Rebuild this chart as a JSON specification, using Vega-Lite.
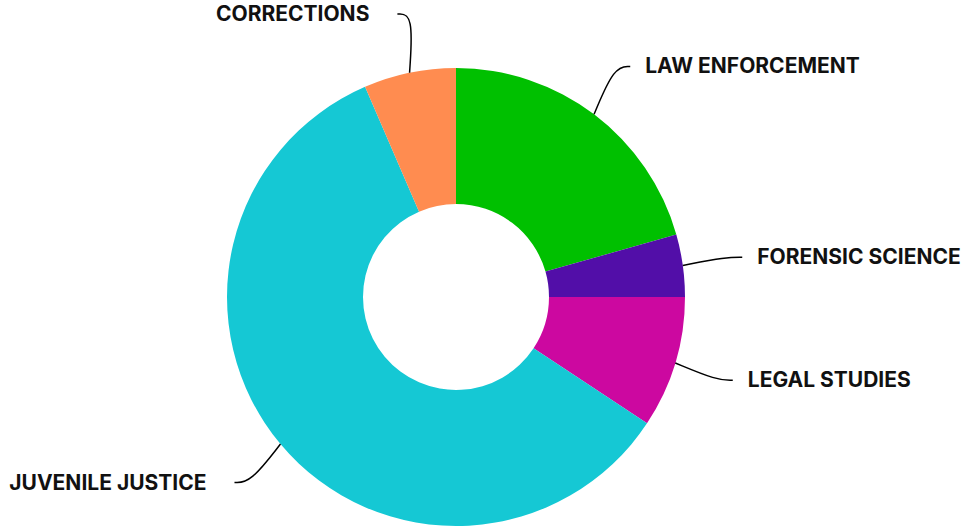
{
  "$schema": "https://vega.github.io/schema/vega-lite/v6.json",
  "width": 912,
  "height": 458,
  "autosize": "none",
  "padding": {"left": 0, "top": 68, "right": 52, "bottom": 3},
  "background": "white",
  "config": {"view": {"stroke": null}},
  "data": {
    "values": [
      {"category": "LAW ENFORCEMENT", "value": 20.6},
      {"category": "FORENSIC SCIENCE", "value": 4.4},
      {"category": "LEGAL STUDIES", "value": 9.3},
      {"category": "JUVENILE JUSTICE", "value": 59.2},
      {"category": "CORRECTIONS", "value": 6.5}
    ]
  },
  "transform": [
    {"window": [{"op": "row_number", "as": "rn"}]},
    {"window": [{"op": "sum", "field": "value", "as": "cum"}], "sort": [{"field": "rn"}], "frame": [null, 0]},
    {"joinaggregate": [{"op": "sum", "field": "value", "as": "total"}]},
    {"calculate": "(datum.cum - datum.value / 2) / datum.total * 2 * PI", "as": "a"},
    {"calculate": "sin(datum.a) > 0 ? 1 : -1", "as": "side"}
  ],
  "layer": [
    {
      "mark": {"type": "arc", "outerRadius": 229, "innerRadius": 93},
      "encoding": {
        "theta": {"field": "value", "type": "quantitative", "stack": true},
        "order": {"field": "rn", "type": "quantitative"},
        "color": {
          "field": "category",
          "type": "nominal",
          "legend": null,
          "scale": {
            "domain": ["LAW ENFORCEMENT", "FORENSIC SCIENCE", "LEGAL STUDIES", "JUVENILE JUSTICE", "CORRECTIONS"],
            "range": ["#00C000", "#520EA8", "#CC08A0", "#15C8D4", "#FF8C50"]
          }
        }
      }
    },
    {
      "transform": [
        {"calculate": "[0, 1, 2]", "as": "pt"},
        {"flatten": ["pt"]},
        {"calculate": "datum.pt == 0 ? 229 * sin(datum.a) : (datum.pt == 2 ? 289 * sin(datum.a) : 289 * sin(datum.a) - datum.side * 16)", "as": "px"},
        {"calculate": "datum.pt == 0 ? 229 * cos(datum.a) : 289 * cos(datum.a)", "as": "py"}
      ],
      "mark": {"type": "line", "interpolate": "basis", "color": "black", "strokeWidth": 1.5},
      "encoding": {
        "x": {"field": "px", "type": "quantitative", "scale": {"domain": [-456, 456], "zero": false, "nice": false}, "axis": null},
        "y": {"field": "py", "type": "quantitative", "scale": {"domain": [-229, 229], "zero": false, "nice": false}, "axis": null},
        "detail": {"field": "category"},
        "order": {"field": "pt", "type": "quantitative"}
      }
    },
    {
      "transform": [
        {"filter": "datum.side > 0"},
        {"calculate": "289 * sin(datum.a)", "as": "tx"},
        {"calculate": "289 * cos(datum.a)", "as": "ty"}
      ],
      "mark": {"type": "text", "align": "left", "baseline": "middle", "dx": 15, "dy": 1, "font": "Inter", "fontWeight": "bold", "fontSize": 21, "color": "#111111"},
      "encoding": {
        "x": {"field": "tx", "type": "quantitative", "scale": {"domain": [-456, 456], "zero": false, "nice": false}, "axis": null},
        "y": {"field": "ty", "type": "quantitative", "scale": {"domain": [-229, 229], "zero": false, "nice": false}, "axis": null},
        "text": {"field": "category"}
      }
    },
    {
      "transform": [
        {"filter": "datum.side < 0"},
        {"calculate": "289 * sin(datum.a)", "as": "tx"},
        {"calculate": "289 * cos(datum.a)", "as": "ty"}
      ],
      "mark": {"type": "text", "align": "right", "baseline": "middle", "dx": -28, "dy": 1, "font": "Inter", "fontWeight": "bold", "fontSize": 21, "color": "#111111"},
      "encoding": {
        "x": {"field": "tx", "type": "quantitative", "scale": {"domain": [-456, 456], "zero": false, "nice": false}, "axis": null},
        "y": {"field": "ty", "type": "quantitative", "scale": {"domain": [-229, 229], "zero": false, "nice": false}, "axis": null},
        "text": {"field": "category"}
      }
    }
  ]
}
